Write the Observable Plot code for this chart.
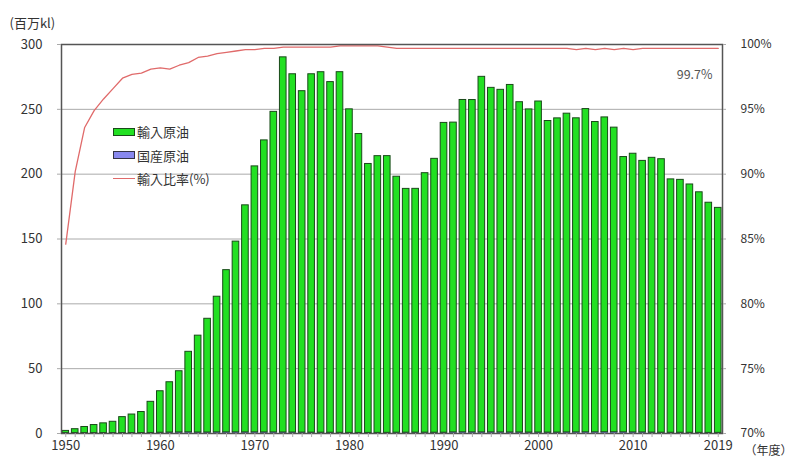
<!DOCTYPE html>
<html>
<head>
<meta charset="utf-8">
<script src="https://cdn.jsdelivr.net/npm/d3@7"></script>
<script src="https://cdn.jsdelivr.net/npm/@observablehq/plot@0.6"></script>
<style>
  body { margin: 0; background: #fff; }
  #wrap { position: relative; width: 797px; height: 461px; font-family: "Noto Sans CJK JP", sans-serif; }
  #legend { position: absolute; left: 113px; top: 120px; font-size: 13px; color: #333; line-height: 23.5px; }
  #legend .row { display: flex; align-items: center; height: 23.5px; }
  #legend .sw { width: 20px; height: 6px; border: 1px solid #1a4a1a; margin-right: 2px; }
  #legend .ln { width: 22px; height: 0; border-top: 1.6px solid #e06a6a; margin-right: 2px; }
</style>
</head>
<body>
<div id="wrap">
  <div id="chart"></div>
  <div id="legend">
    <div class="row"><span class="sw" style="background:#22e022"></span>輸入原油</div>
    <div class="row"><span class="sw" style="background:#8888ee;border-color:#334"></span>国産原油</div>
    <div class="row"><span class="ln"></span>輸入比率(%)</div>
  </div>
</div>
<script>
const years = d3.range(1950, 2020);

// 輸入原油 (百万kl)
const imports = [
  1.7, 3.0, 4.7, 6.2, 7.5, 8.7, 12.3, 14.3, 16.2, 24.0,
  32.0, 38.8, 47.2, 62.1, 74.7, 87.7, 104.6, 125.1, 147.1, 175.1,
  205.1, 225.2, 247.2, 289.3, 276.3, 263.3, 276.4, 278.0, 270.4, 278.1,
  249.5, 230.5, 207.4, 213.4, 213.4, 197.4, 188.0, 188.0, 200.1, 211.2,
  238.9, 238.9, 256.3, 256.3, 274.2, 265.7, 264.2, 268.0, 254.7, 249.2,
  255.3, 240.3, 242.3, 245.8, 242.2, 249.3, 239.3, 242.8, 234.9, 212.3,
  214.9, 209.4, 211.9, 210.9, 195.4, 195.0, 191.5, 185.5, 177.5, 173.5
];

// 国産原油 (百万kl)
const domestic = [
  0.30, 0.33, 0.32, 0.33, 0.33, 0.33, 0.33, 0.33, 0.37, 0.43,
  0.59, 0.73, 0.82, 0.90, 0.76, 0.77, 0.88, 0.88, 0.89, 0.87,
  0.90, 0.85, 0.85, 0.80, 0.75, 0.70, 0.65, 0.63, 0.60, 0.55,
  0.49, 0.46, 0.46, 0.49, 0.52, 0.63, 0.64, 0.68, 0.66, 0.62,
  0.62, 0.87, 0.91, 0.87, 0.86, 0.86, 0.84, 0.80, 0.80, 0.73,
  0.74, 0.70, 0.73, 0.85, 0.88, 0.91, 0.92, 0.97, 0.98, 0.91,
  0.85, 0.83, 0.70, 0.63, 0.58, 0.60, 0.55, 0.52, 0.47, 0.50
];

// 輸入比率 (%)
const ratio = [
  84.6, 90.2, 93.6, 94.9, 95.8, 96.6, 97.4, 97.7, 97.8, 98.1,
  98.2, 98.1, 98.4, 98.6, 99.0, 99.1, 99.3, 99.4, 99.5, 99.6,
  99.6, 99.7, 99.7, 99.8, 99.8, 99.8, 99.8, 99.8, 99.8, 99.9,
  99.9, 99.9, 99.9, 99.9, 99.8, 99.7, 99.7, 99.7, 99.7, 99.7,
  99.7, 99.7, 99.7, 99.7, 99.7, 99.7, 99.7, 99.7, 99.7, 99.7,
  99.7, 99.7, 99.7, 99.7, 99.6, 99.7, 99.6, 99.7, 99.6, 99.7,
  99.6, 99.7, 99.7, 99.7, 99.7, 99.7, 99.7, 99.7, 99.7, 99.7
];

const labelYears = [1950, 1960, 1970, 1980, 1990, 2000, 2010, 2019];
const leftTicks = [0, 50, 100, 150, 200, 250, 300];
const gridTicks = [50, 100, 150, 200, 250];
const pctMin = 70, pctMax = 100;

const rows = years.map((y, i) => ({year: y, imp: imports[i], dom: domestic[i], ratio: ratio[i]}));
const toY = r => (r - pctMin) / (pctMax - pctMin) * 300;

const font = "Noto Sans CJK JP, sans-serif";

const chart = Plot.plot({
  width: 797,
  height: 461,
  marginLeft: 61,
  marginRight: 75,
  marginTop: 44,
  marginBottom: 28,
  style: {fontFamily: font, fontSize: "13px", color: "#333", background: "#fff"},
  x: {type: "band", domain: years, paddingInner: 0.3, paddingOuter: 0.1},
  y: {domain: [0, 300]},
  marks: [
    Plot.ruleY(gridTicks, {stroke: "#aaa", strokeWidth: 1}),
    Plot.barY(rows, {x: "year", y1: 0, y2: "dom", fill: "#8888ee", stroke: "#334", strokeWidth: 0.5}),
    Plot.barY(rows, {x: "year", y1: "dom", y2: d => d.dom + d.imp, fill: "#22e022", stroke: "#1a4a1a", strokeWidth: 1}),
    Plot.lineY(rows, {x: "year", y: d => toY(d.ratio), stroke: "#e06a6a", strokeWidth: 1.3}),
    Plot.frame({stroke: "#555", strokeWidth: 1.5}),
    Plot.axisY({anchor: "left", ticks: leftTicks, tickSize: 4, tickPadding: 15, stroke: "#aaa", label: null, fontSize: 13}),
    Plot.axisY({anchor: "right", ticks: leftTicks, tickSize: 3, tickPadding: 15, stroke: "#aaa", label: null,
      tickFormat: d => (pctMin + d / 10) + "%", textAnchor: "start", fontSize: 12}),
    Plot.axisX({ticks: years, tickSize: 4, stroke: "#aaa", tickPadding: 3, label: null,
      tickFormat: d => labelYears.includes(d) ? String(d) : "", fontSize: 13}),
    Plot.text(["(百万kl)"], {frameAnchor: "top-left", dx: -52, dy: -26, textAnchor: "start", fontSize: 13, fill: "#333"}),
    Plot.text(["（年度）"], {frameAnchor: "bottom-right", dx: 22, dy: 21, textAnchor: "start", fontSize: 12, fill: "#333"}),
    Plot.text([ratio[ratio.length - 1].toFixed(1) + "%"], {frameAnchor: "top-right", dx: -10, dy: 26, textAnchor: "end", fontSize: 12.5, fill: "#555"})
  ]
});
document.getElementById("chart").appendChild(chart);
</script>
</body>
</html>
